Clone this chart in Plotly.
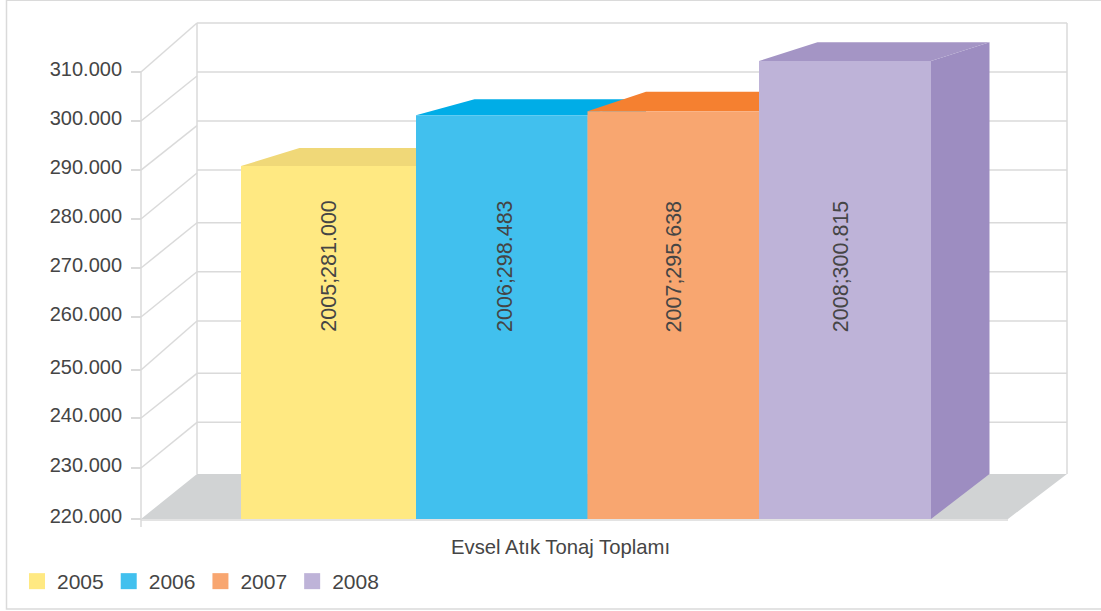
import plotly.graph_objects as go

# ---- data ----
years = ["2005", "2006", "2007", "2008"]
label_values = ["281.000", "298.483", "295.638", "300.815"]
drawn_front_tops = [291.07, 301.3, 302.1, 312.2]   # height of each bar's front face against the axis
drawn_back_tops = [294.7, 304.5, 306.0, 316.0]     # height of each bar's rear edge
tick_labels = ["220.000", "230.000", "240.000", "250.000", "260.000",
               "270.000", "280.000", "290.000", "300.000", "310.000"]
# the reference's ticks are not evenly spaced: where each one is drawn on the axis
tick_positions = [220, 230.27, 240.33, 250.0, 260.67, 270.53, 280.4, 290.26, 300.13, 310]
# levels on the back wall: where each diagonal arrives and where each wall line runs
diagonal_ends = [229.06, 239.47, 249.33, 259.86, 269.79, 279.65, 289.66, 299.2, 309.2, 319.86]
wall_levels = [229.06, 239.47, 249.33, 259.86, 269.79, 279.65, 290.26, 300.13, 310, 319.86]
category_title = "Evsel Atık Tonaj Toplamı"

# ---- styles ----
front_colors = ["#FFE982", "#41C0EE", "#F8A670", "#BEB3D8"]
top_colors = ["#F0D878", "#00ADE7", "#F58030", "#A495C5"]
side_colors = ["#E3CF72", "#1E9FD0", "#E08A50", "#9D8DC1"]
GRID = "#DADADA"
FLOOR = "#D1D3D4"
TEXT = "#454545"
FONT = "Liberation Sans"

# ---- layout geometry: page size, axis scales ----
W, H = 1101, 611
PITCH = 172.0                 # pixels per x unit
X0_PX = 241.0                 # pixel of x = 0
Y_SCALE = 447 / 90            # pixels per y unit
Y220_PX = 519.0               # pixel of y = 220
x_range = [-X0_PX / PITCH, (W - X0_PX) / PITCH]
y_range = [220 + (Y220_PX - H) / Y_SCALE, 220 + Y220_PX / Y_SCALE]

widths = [175 / PITCH, 171.5 / PITCH, 171.5 / PITCH, 172 / PITCH]
lefts = [sum(widths[:i]) for i in range(len(widths))]
label_xshift = [1, 3, 1, -4]
DEPTH_X = 58.5 / PITCH
BASE = 220
BACK_BASE = wall_levels[0]
FRONT_LEFT = -100 / PITCH     # front axis
BACK_LEFT = -44 / PITCH       # back wall left
BACK_RIGHT = 826 / PITCH      # back wall right
FRONT_RIGHT = 767 / PITCH     # floor front right
WALL_TOP = wall_levels[-1]

fig = go.Figure()


def poly(xs, ys, color):
    fig.add_trace(go.Scatter(x=xs + xs[:1], y=ys + ys[:1], mode="lines", fill="toself",
                             fillcolor=color, line=dict(width=0), hoverinfo="skip",
                             showlegend=False, xaxis="x", yaxis="y"))


def line(xs, ys, width=1.5):
    fig.add_trace(go.Scatter(x=xs, y=ys, mode="lines", line=dict(color=GRID, width=width),
                             hoverinfo="skip", showlegend=False, xaxis="x", yaxis="y"))


# floor
poly([FRONT_LEFT, BACK_LEFT, BACK_RIGHT, FRONT_RIGHT], [BASE, BACK_BASE, BACK_BASE, BASE], FLOOR)

# walls: wall lines and the diagonals from the axis ticks
for k, t in enumerate(tick_positions):
    if k > 0:
        line([FRONT_LEFT, BACK_LEFT], [t, diagonal_ends[k]])
    if 0 < k:
        line([BACK_LEFT, BACK_RIGHT], [wall_levels[k], wall_levels[k]])
line([BACK_LEFT, BACK_LEFT], [BACK_BASE, WALL_TOP])
line([BACK_RIGHT, BACK_RIGHT], [BACK_BASE, WALL_TOP])
line([FRONT_LEFT, FRONT_LEFT], [BASE - 1.6, tick_positions[-1]])
line([FRONT_LEFT, FRONT_RIGHT], [BASE - 0.2, BASE - 0.2])

# side and top faces of every bar, left to right
for i in range(len(years)):
    l, r = lefts[i], lefts[i] + widths[i]
    poly([r, r + DEPTH_X, r + DEPTH_X, r],
         [BASE, BACK_BASE, drawn_back_tops[i], drawn_front_tops[i]], side_colors[i])
    poly([l, l + DEPTH_X, r + DEPTH_X, r],
         [drawn_front_tops[i], drawn_back_tops[i], drawn_back_tops[i], drawn_front_tops[i]],
         top_colors[i])

# front faces, on an overlaid pair of axes so that they cover the faces behind them
for i, y in enumerate(years):
    fig.add_trace(go.Bar(x=[lefts[i]], y=[drawn_front_tops[i] - BASE], base=BASE,
                         width=[widths[i]], offset=0, marker=dict(color=front_colors[i], line=dict(width=0)),
                         hoverinfo="skip", showlegend=False, xaxis="x2", yaxis="y2"))
    # legend entry
    fig.add_trace(go.Scatter(x=[None], y=[None], mode="markers", name=y,
                             marker=dict(symbol="square", size=16, color=front_colors[i]),
                             xaxis="x", yaxis="y"))

annotations = [
    dict(x=lefts[i] + widths[i] / 2, y=270.9, xref="x", yref="y", xshift=label_xshift[i],
         text=f"{years[i]};{label_values[i]}", textangle=-90, showarrow=False,
         font=dict(family=FONT, size=21.5, color=TEXT))
    for i in range(len(years))
]
annotations.append(dict(x=560 / W, y=1 - 547 / H, xref="paper", yref="paper", text=category_title,
                        xanchor="center", yanchor="middle", showarrow=False,
                        font=dict(family=FONT, size=20.3, color=TEXT)))

fig.update_layout(
    width=W, height=H, margin=dict(l=0, r=0, t=0, b=0), autosize=False,
    paper_bgcolor="white", plot_bgcolor="white", barmode="overlay",
    xaxis=dict(range=x_range, visible=False, domain=[0, 1]),
    yaxis=dict(range=y_range, domain=[0, 1], anchor="free", position=141 / W, showgrid=False,
               zeroline=False, showline=False, tickvals=tick_positions, ticktext=tick_labels,
               ticks="outside", ticklen=10, tickwidth=1.5, tickcolor=GRID,
               tickfont=dict(family=FONT, size=20, color=TEXT), ticklabelshift=-3,
               ticklabelstandoff=5),
    xaxis2=dict(range=x_range, visible=False, overlaying="x", matches=None),
    yaxis2=dict(range=y_range, visible=False, overlaying="y", anchor="x2"),
    legend=dict(orientation="h", x=17 / W, y=1 - 561 / H, xanchor="left", yanchor="top",
                font=dict(family=FONT, size=21, color=TEXT), bgcolor="rgba(0,0,0,0)",
                traceorder="normal"),
    annotations=annotations,
    shapes=[dict(type="rect", xref="paper", yref="paper", x0=6.5 / W, x1=1.02, y0=1 - 609 / H, y1=0.9995,
                 line=dict(color=GRID, width=1.5), layer="below")],
    showlegend=True,
)
fig.write_html("out.html", post_script="document.body.style.margin='0';", config=dict(displayModeBar=False))
